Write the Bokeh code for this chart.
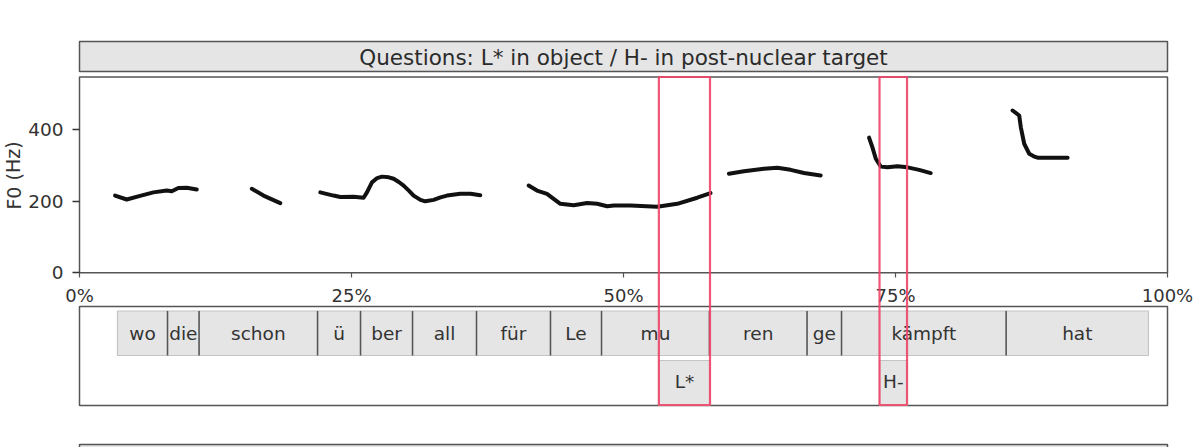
from bokeh.plotting import figure
from bokeh.models import Range1d, FixedTicker, PrintfTickFormatter, Label
from bokeh.core.properties import value
from bokeh.embed import file_html
from bokeh.resources import INLINE

# ---------------- data ----------------
title_text = "Questions: L* in object / H- in post-nuclear target"
y_label = "F0 (Hz)"
x_ticks = [0, 25, 50, 75, 100]
y_ticks = [0, 200, 400]

# F0 contour segments (x in % of utterance, y in Hz)
f0_x = [
    [3.27, 4.34, 5.57, 6.79, 8.02, 8.48, 9.09, 9.86, 10.78],
    [15.84, 16.91, 18.45],
    [22.13, 23.35, 23.97, 25.19, 26.11, 26.42, 26.88, 27.36, 27.80, 28.43, 28.87, 29.35, 29.79,
     30.27, 30.71, 31.34, 31.78, 32.55, 33.18, 33.78, 35.00, 35.94, 36.84],
    [41.28, 42.05, 42.97, 43.58, 44.20, 45.42, 46.66, 47.58, 48.50, 49.11, 50.64, 53.10, 54.94, 56.78, 58.00],
    [59.69, 61.07, 62.91, 64.14, 65.36, 66.59, 68.12],
    [72.57, 72.88, 73.19, 73.65, 74.26, 75.18, 76.10, 77.17, 78.24],
    [85.76, 86.37, 86.52, 86.83, 87.29, 87.70, 88.06, 89.29, 90.82],
]
f0_y = [
    [216, 205, 215, 225, 230, 228, 237, 238, 233],
    [235, 216, 195],
    [225, 216, 212, 213, 210, 225, 253, 265, 269, 267, 263, 254, 244,
     230, 216, 204, 200, 204, 211, 216, 221, 221, 217],
    [244, 230, 221, 207, 193, 189, 195, 193, 186, 188, 188, 185, 193, 210, 223],
    [277, 284, 291, 294, 288, 279, 272],
    [378, 351, 319, 297, 295, 298, 295, 288, 279],
    [454, 440, 407, 361, 333, 326, 322, 322, 322],
]

words = ["wo", "die", "schon", "ü", "ber", "all", "für", "Le", "mu", "ren", "ge", "kämpft", "hat"]
word_start = [3.49, 8.09, 10.99, 21.88, 25.83, 30.61, 36.49, 43.29, 47.98, 57.90, 66.87, 70.04, 85.17]
word_end = [8.09, 10.99, 21.88, 25.83, 30.61, 36.49, 43.29, 47.98, 57.90, 66.87, 70.04, 85.17, 98.25]

tones = ["L*", "H-"]
tone_start = [53.25, 73.53]
tone_end = [57.95, 76.06]

# ---------------- layout constants ----------------
W, H = 1200, 447
X0, PX_PER_PCT = 79.0, 10.88          # 0 % at pixel 79, 100 % at pixel 1167
Y0, PX_PER_HZ = 272.3, 0.3575         # 0 Hz at pixel 272.3
FONT = value("DejaVu Sans")
TXT = "#333333"
FRAME = "#555555"
STRIP = "#e5e5e5"

x_lo = -X0 / PX_PER_PCT
x_hi = (W - X0) / PX_PER_PCT
y_lo = -(H - Y0) / PX_PER_HZ
y_hi = Y0 / PX_PER_HZ

p = figure(frame_width=W, frame_height=H,
           min_border_left=0, min_border_right=0,
           min_border_top=0, min_border_bottom=0,
           x_range=Range1d(x_lo, x_hi), y_range=Range1d(y_lo, y_hi),
           output_backend="svg", toolbar_location=None)
p.extra_y_ranges = {"px": Range1d(H, 0)}
p.outline_line_color = None
p.grid.visible = False
p.background_fill_color = "white"
p.border_fill_color = "white"

# title strip
p.quad(left=0, right=100, top=41, bottom=71, y_range_name="px",
       fill_color=STRIP, line_color=FRAME, line_width=1.5)
p.text(x=[50], y=[56.5], text=[title_text], y_range_name="px",
       text_align="center", text_baseline="middle",
       text_font=FONT, text_font_size="21.5px", text_color="#2b2b2b")

# main panel frame
p.quad(left=0, right=100, bottom=0, top=(Y0 - 76.5) / PX_PER_HZ,
       fill_color=None, line_color=FRAME, line_width=1.5)

# F0 contour
p.multi_line(xs=f0_x, ys=f0_y, line_color="#111111", line_width=4,
             line_cap="round", line_join="round")

# tier panel
p.quad(left=0, right=100, top=306, bottom=405, y_range_name="px",
       fill_color="white", line_color=FRAME, line_width=1.5)
p.quad(left=word_start, right=word_end, top=310.5, bottom=355, y_range_name="px",
       fill_color=STRIP, line_color="#c4c4c4", line_width=1.2)
p.segment(x0=word_start[1:], x1=word_start[1:], y0=310.5, y1=355, y_range_name="px",
          line_color=FRAME, line_width=1.5)
word_mid = [(a + b) / 2 for a, b in zip(word_start, word_end)]
p.text(x=word_mid, y=332.5, text=words, y_range_name="px",
       text_align="center", text_baseline="middle",
       text_font=FONT, text_font_size="18.5px", text_color=TXT)

p.quad(left=tone_start, right=tone_end, top=360, bottom=405, y_range_name="px",
       fill_color=STRIP, line_color="#c4c4c4", line_width=1.2)
tone_mid = [(a + b) / 2 for a, b in zip(tone_start, tone_end)]
p.text(x=tone_mid, y=381, text=tones, y_range_name="px",
       text_align="center", text_baseline="middle",
       text_font=FONT, text_font_size="18.5px", text_color=TXT)

# next facet (cut off at the bottom)
p.quad(left=0, right=100, top=444, bottom=470, y_range_name="px",
       fill_color=STRIP, line_color=FRAME, line_width=1.5)

# highlight rectangles around the tonal events
hl = p.quad(left=tone_start, right=tone_end, top=76.5, bottom=404.5, y_range_name="px",
            fill_color=None, line_color="#ee4468", line_width=2.2, line_alpha=0.9)
hl.level = "overlay"

# axes (fixed at the panel edges)
ya = p.yaxis[0]
ya.fixed_location = 0
ya.ticker = FixedTicker(ticks=y_ticks)
ya.axis_line_color = None
ya.major_tick_out = 7
ya.major_tick_in = 0
ya.minor_tick_out = 0
ya.minor_tick_in = 0
ya.major_tick_line_color = "#333333"
ya.major_tick_line_width = 1.5
ya.major_label_standoff = 9
ya.major_label_text_font = "DejaVu Sans"
ya.major_label_text_font_size = "18.5px"
ya.major_label_text_color = TXT

xa = p.xaxis[0]
xa.fixed_location = 0
xa.ticker = FixedTicker(ticks=x_ticks)
xa.formatter = PrintfTickFormatter(format="%d%%")
xa.axis_line_color = None
xa.major_tick_out = 5
xa.major_tick_in = 0
xa.minor_tick_out = 0
xa.minor_tick_in = 0
xa.major_tick_line_color = "#555555"
xa.major_tick_line_width = 1.2
xa.major_label_standoff = 7
xa.major_label_text_font = "DejaVu Sans"
xa.major_label_text_font_size = "18px"
xa.major_label_text_color = TXT

p.add_layout(Label(x=(13 - X0) / PX_PER_PCT, y=(Y0 - 175) / PX_PER_HZ, text=y_label,
                   angle=1.5708, text_align="center", text_baseline="middle",
                   text_font="DejaVu Sans", text_font_size="19px", text_color=TXT))

open("out.html", "w").write(file_html(p, INLINE))
